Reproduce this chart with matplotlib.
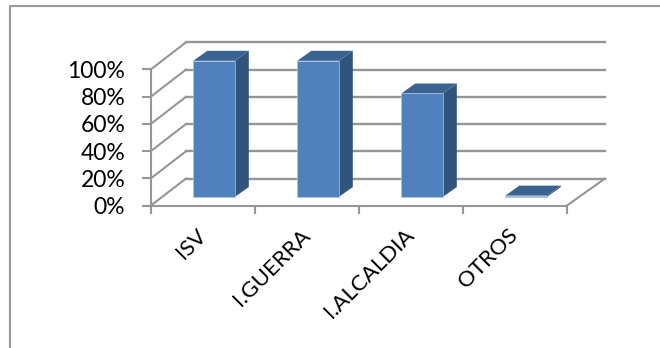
import matplotlib
matplotlib.use("Agg")
import matplotlib.pyplot as plt
from matplotlib.lines import Line2D
from matplotlib.patches import Polygon, Rectangle

categories = ["ISV", "I.GUERRA", "I.ALCALDIA", "OTROS"]
values = [100, 100, 76, 1]
y_ticks = [0, 20, 40, 60, 80, 100]
y_labels = ["0%", "20%", "40%", "60%", "80%", "100%"]

W, H = 660, 348
GRID = "#969696"
FRONT = "#4f81bd"
TOP = "#3a6391"
SIDE = "#31547c"

plt.rcParams["font.family"] = ["Lato", "DejaVu Sans"]

fig = plt.figure(figsize=(W/100, H/100), dpi=100)
# front plane of the 3d box, in pixels: x 151-567, y 205.5 (0%) to 69.3 (100%)
ax = fig.add_axes([151/W, 1-205.5/H, 416/W, 136.2/H])
ax.set_xlim(0, 4)
ax.set_ylim(0, 100)

px_x = 4/416
px_y = 100/136.2
depth_x = 35*px_x
depth_y = 27*px_y

# back wall and side wall grid
for t in y_ticks:
    ax.plot([0, depth_x], [t, t+depth_y], color=GRID, lw=1.5, clip_on=False, zorder=1)
    ax.plot([depth_x, 4+38*px_x], [t+depth_y, t+depth_y], color=GRID, lw=1.7, clip_on=False, zorder=1)
ax.plot([4, 4+38*px_x], [0, depth_y], color=GRID, lw=1.5, clip_on=False, zorder=1)

# bars as 3d boxes
bar_w = 41.5*px_x
off_x = 42.3*px_x
off_y = 8.5*px_y
bd_x = 14*px_x
bd_y = 10*px_y
for i, v in enumerate(values):
    x0 = i+off_x
    x1 = x0+bar_w
    y0 = off_y
    y1 = off_y+v
    ax.add_patch(Polygon([(x1, y0), (x1+bd_x, y0+bd_y), (x1+bd_x, y1+bd_y), (x1, y1)], fc=SIDE, ec="none", zorder=3, clip_on=False))
    ax.add_patch(Polygon([(x0, y1), (x1, y1), (x1+bd_x, y1+bd_y), (x0+bd_x, y1+bd_y)], fc=TOP, ec="none", zorder=3, clip_on=False))
    ax.add_patch(Rectangle((x0, y0), bar_w, v, fc=FRONT, ec="#a9c3e2", lw=0.5, zorder=4, clip_on=False))

for s in ["top", "right"]:
    ax.spines[s].set_visible(False)
for s in ["left", "bottom"]:
    ax.spines[s].set_color(GRID)
    ax.spines[s].set_linewidth(1.5)
    ax.spines[s].set_zorder(2)

ax.set_yticks(y_ticks)
ax.set_yticklabels(y_labels, fontsize=16.5, color="black")
ax.tick_params(axis="y", length=6.5, width=1.5, color=GRID, pad=12)

ax.set_xticks(range(5))
ax.set_xticklabels([])
ax.tick_params(axis="x", length=6, width=1.5, color=GRID)
ax.set_xticks([i+0.43 for i in range(4)], minor=True)
ax.set_xticklabels(categories, minor=True, fontsize=16, rotation=45, ha="right", rotation_mode="anchor")
ax.tick_params(axis="x", which="minor", length=0, pad=14)

# frame of the chart area, only top and left show
fig.add_artist(Line2D([10/W, 10/W, 1], [0, 1-6/H, 1-6/H], transform=fig.transFigure, color="#999999", lw=1.5))

fig.savefig("out.png", dpi=100)
